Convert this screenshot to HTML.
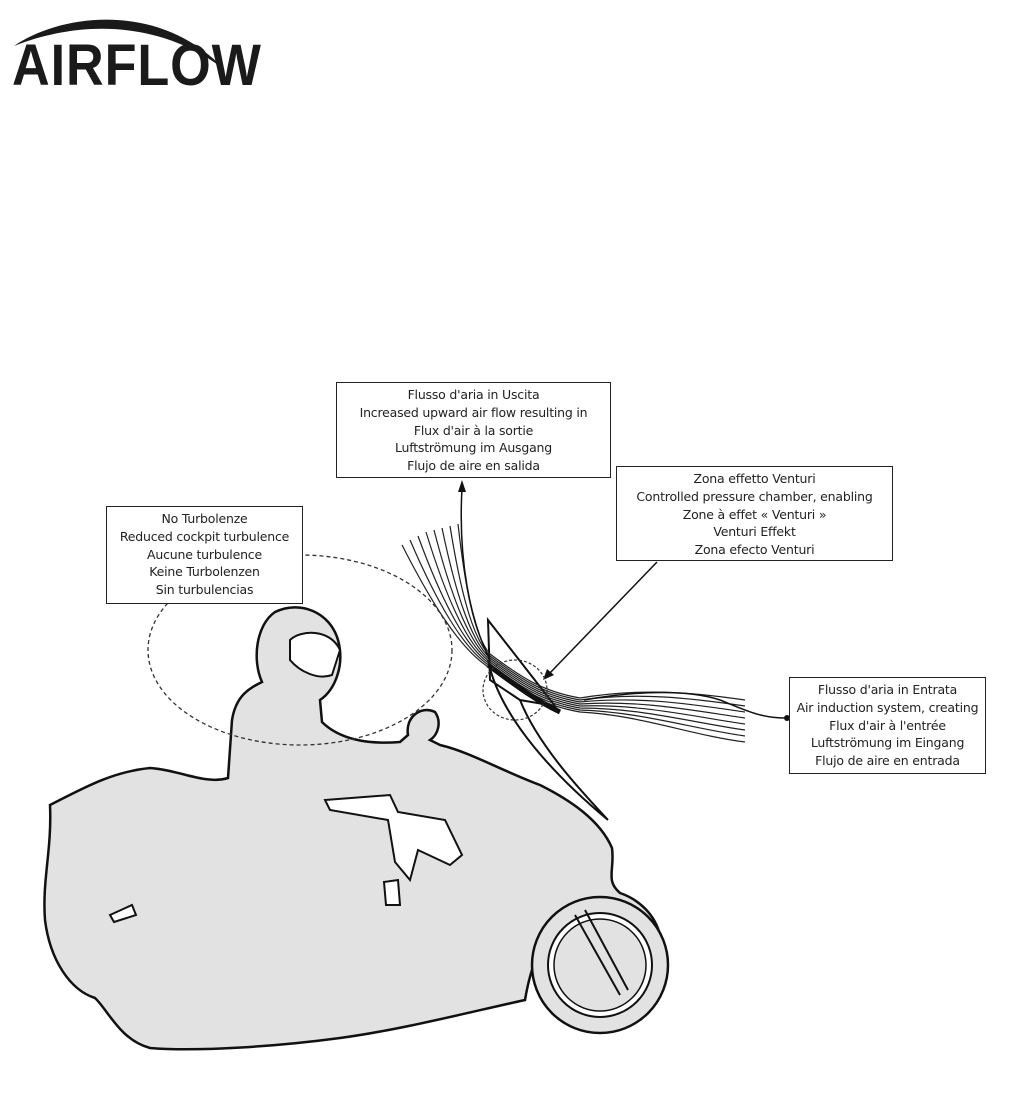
<!DOCTYPE html>
<html><head><meta charset="utf-8"><style>
html,body{margin:0;padding:0;background:#fff;}
body{width:1024px;height:1096px;position:relative;overflow:hidden;font-family:"DejaVu Sans","Liberation Sans",sans-serif;}
.box{position:absolute;border:1.5px solid #222;background:#fff;text-align:center;font-size:12.5px;line-height:17.8px;color:#222;box-sizing:border-box;padding-top:3px;white-space:nowrap;letter-spacing:-0.2px;}
.logo{position:absolute;left:12px;top:32px;font-family:"Liberation Sans",sans-serif;font-weight:bold;font-size:58px;letter-spacing:1px;color:#1a1a1a;transform:scaleX(0.9);transform-origin:0 0;}
</style></head><body>
<svg width="1024" height="1096" style="position:absolute;left:0;top:0">
<path d="M14,46 C60,14 160,0 225,70 C160,20 80,20 14,46Z" fill="#1a1a1a"/>
<path d="M50,805 C80,790 110,772 150,768 C180,770 205,785 228,778 L232,720 C236,695 250,688 262,682 C252,660 256,625 275,612 C300,600 330,612 338,640 C345,665 335,690 320,700 L322,722 C338,738 365,745 400,742 L408,735 C405,718 420,705 435,712 C442,722 438,735 430,740 L440,745 C470,752 500,770 540,785 C570,800 600,820 612,848 C615,870 605,880 620,893 C640,900 655,915 660,935 L630,930 C615,910 585,905 560,920 C540,940 530,970 525,1000 C470,1012 400,1030 340,1038 C280,1046 200,1052 150,1048 C120,1040 108,1010 95,998 C70,990 50,960 45,920 C42,880 52,850 50,805Z" fill="#e2e2e2" stroke="#111" stroke-width="2.5"/>
<path d="M325,800 L390,795 L398,812 L445,820 L462,855 L450,865 L418,850 L410,880 L395,862 L388,820 L330,810Z" fill="#fff" stroke="#111" stroke-width="2"/>
<path d="M384,882 L398,880 L400,905 L386,905Z" fill="#fff" stroke="#111" stroke-width="2"/>
<path d="M110,915 L132,905 L136,915 L114,922Z" fill="#fff" stroke="#111" stroke-width="2"/>
<path d="M290,640 C300,630 330,628 340,650 L332,675 C318,680 300,672 290,660Z" fill="#fff" stroke="#111" stroke-width="2"/>
<circle cx="600" cy="965" r="68" fill="#e2e2e2" stroke="#111" stroke-width="2.5"/>
<circle cx="600" cy="965" r="52" fill="#fff" stroke="#111" stroke-width="2"/>
<circle cx="600" cy="965" r="46" fill="#e2e2e2" stroke="#111" stroke-width="1.5"/>
<path d="M575,915 L620,995 M585,910 L628,990" stroke="#111" stroke-width="2"/>
<path d="M488,620 L555,706 L520,700 L490,680Z" fill="#fff" stroke="#111" stroke-width="2"/>
<path d="M488,660 C500,720 560,780 608,820 M520,700 C540,750 590,800 608,820" fill="none" stroke="#111" stroke-width="2"/>
<g fill="none" stroke="#222" stroke-width="1.2">
<path d="M402,545 C430,600 460,650 490,668 C520,690 540,705 580,712 C640,715 690,735 745,742"/>
<path d="M410,540 C435,598 462,648 490,666 C520,688 540,703 580,710 C640,712 690,728 745,736"/>
<path d="M418,536 C440,596 464,646 490,664 C520,686 540,701 580,708 C640,708 690,722 745,730"/>
<path d="M426,532 C445,594 466,644 490,662 C520,684 540,699 580,706 C640,704 690,716 745,724"/>
<path d="M434,530 C450,592 468,642 490,660 C520,682 540,697 580,704 C640,700 690,710 745,718"/>
<path d="M442,528 C455,590 470,640 490,658 C520,680 540,695 580,702 C640,696 690,704 745,712"/>
<path d="M450,526 C460,588 472,638 490,656 C520,678 540,693 580,700 C640,692 690,698 745,706"/>
<path d="M458,524 C465,586 474,636 490,654 C520,676 540,691 580,698 C640,688 690,692 745,700"/>
</g>
<path d="M488,665 C515,685 535,700 560,712" stroke="#111" stroke-width="5" fill="none"/>
<path d="M462,488 C458,560 470,620 490,660" fill="none" stroke="#111" stroke-width="1.5"/>
<path d="M462,480 L458,492 L466,492Z" fill="#111"/>
<line x1="657" y1="562" x2="548" y2="675" stroke="#111" stroke-width="1.5"/>
<path d="M543,680 L547,669 L554,675Z" fill="#111"/>
<path d="M584,700 C640,690 690,690 720,700 C745,710 760,718 786,718" fill="none" stroke="#111" stroke-width="1.5"/>
<circle cx="787" cy="718" r="3" fill="#111"/>
<ellipse cx="300" cy="650" rx="152" ry="95" fill="none" stroke="#333" stroke-width="1.3" stroke-dasharray="4,3"/>
<ellipse cx="515" cy="690" rx="32" ry="30" fill="none" stroke="#333" stroke-width="1.2" stroke-dasharray="3,2"/>
</svg>
<div class="logo">AIRFLOW</div>
<div class="box" style="left:336px;top:382px;width:275px;height:96px">Flusso d'aria in Uscita<br>Increased upward air flow resulting in<br>Flux d'air à la sortie<br>Luftströmung im Ausgang<br>Flujo de aire en salida</div>
<div class="box" style="left:616px;top:466px;width:277px;height:95px">Zona effetto Venturi<br>Controlled pressure chamber, enabling<br>Zone à effet « Venturi »<br>Venturi Effekt<br>Zona efecto Venturi</div>
<div class="box" style="left:106px;top:506px;width:197px;height:98px">No Turbolenze<br>Reduced cockpit turbulence<br>Aucune turbulence<br>Keine Turbolenzen<br>Sin turbulencias</div>
<div class="box" style="left:789px;top:677px;width:197px;height:97px">Flusso d'aria in Entrata<br>Air induction system, creating<br>Flux d'air à l'entrée<br>Luftströmung im Eingang<br>Flujo de aire en entrada</div>
</body></html>
